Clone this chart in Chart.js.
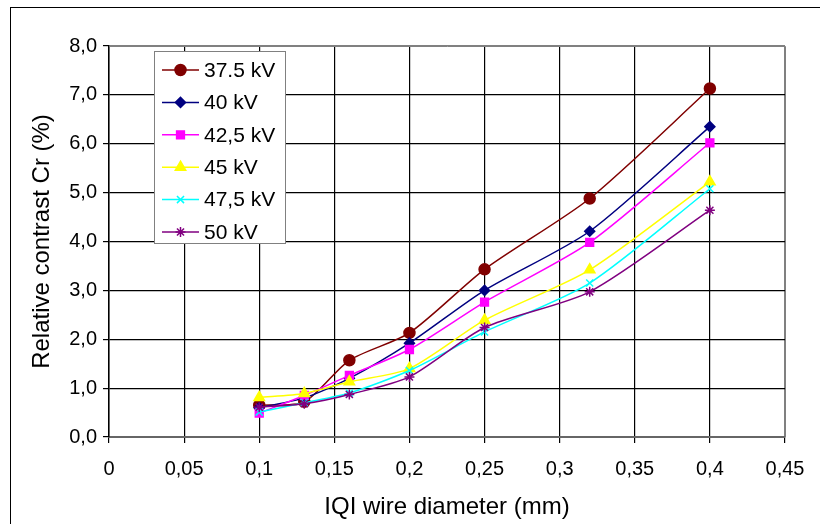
<!DOCTYPE html>
<html>
<head>
<meta charset="utf-8">
<script src="https://cdn.jsdelivr.net/npm/chart.js@4"></script>
<style>
  body { margin: 0; background: #fff; }
  canvas { display: block; }
</style>
</head>
<body>
<canvas id="contrastChart" width="820" height="524"></canvas>
<script>
// wire diameters (mm)
const diameters = [0.1, 0.13, 0.16, 0.2, 0.25, 0.32, 0.4];

const seriesNames = ['37.5 kV', '40 kV', '42,5 kV', '45 kV', '47,5 kV', '50 kV'];
const kv375 = [0.65, 0.72, 1.57, 2.13, 3.43, 4.88, 7.13];
const kv40  = [0.60, 0.80, 1.20, 1.92, 3.00, 4.21, 6.35];
const kv425 = [0.49, 0.85, 1.26, 1.79, 2.76, 3.98, 6.02];
const kv45  = [0.81, 0.89, 1.13, 1.40, 2.39, 3.42, 5.22];
const kv475 = [0.51, 0.70, 0.90, 1.36, 2.15, 3.15, 5.08];
const kv50  = [0.61, 0.68, 0.87, 1.23, 2.24, 2.97, 4.64];

const xTickLabels = ['0', '0,05', '0,1', '0,15', '0,2', '0,25', '0,3', '0,35', '0,4', '0,45'];
const yTickLabels = ['0,0', '1,0', '2,0', '3,0', '4,0', '5,0', '6,0', '7,0', '8,0'];

const colors = ['#800000', '#000080', '#FF00FF', '#FFFF00', '#00FFFF', '#800080'];
const markers = ['circle', 'rectRot', 'rect', 'triangle', 'crossRot', 'star'];
const markerSize = [5.5, 5, 5.5, 6, 5, 5];

function toPoints(vals) {
    return vals.map((v, i) => ({ x: diameters[i], y: v }));
}

const allSeries = [kv375, kv40, kv425, kv45, kv475, kv50];
const datasets = allSeries.map((vals, i) => ({
    label: seriesNames[i],
    data: toPoints(vals),
    borderColor: colors[i],
    backgroundColor: colors[i],
    borderWidth: 1.5,
    pointStyle: markers[i],
    pointRadius: markerSize[i],
    pointBorderWidth: 1.5,
    pointBorderColor: colors[i],
    pointBackgroundColor: colors[i],
    tension: 0.25,
    order: allSeries.length - i
}));

const font = "'Liberation Sans', Arial, sans-serif";

// outer frame + plot frame + legend inside plot
const framePlugin = {
    id: 'frame',
    beforeDraw(chart) {
        const ctx = chart.ctx;
        ctx.save();
        ctx.fillStyle = '#fff';
        ctx.fillRect(0, 0, chart.width, chart.height);
        ctx.strokeStyle = '#000';
        ctx.lineWidth = 1;
        ctx.strokeRect(10.5, 7.5, 900, 700);
        ctx.restore();
    },
    afterDraw(chart) {
        const ctx = chart.ctx;
        const a = chart.chartArea;
        ctx.save();
        ctx.strokeStyle = '#808080';
        ctx.lineWidth = 1;
        ctx.beginPath();
        ctx.moveTo(Math.round(a.left) + 0.5, Math.round(a.top) + 0.5);
        ctx.lineTo(Math.round(a.right) + 0.5, Math.round(a.top) + 0.5);
        ctx.lineTo(Math.round(a.right) + 0.5, Math.round(a.bottom) + 0.5);
        ctx.stroke();

        // legend box
        const bx = 154.5, by = 51.5, bw = 131, bh = 192;
        ctx.fillStyle = '#fff';
        ctx.fillRect(bx, by, bw, bh);
        ctx.strokeStyle = '#808080';
        ctx.strokeRect(bx, by, bw, bh);
        ctx.font = '21px ' + font;
        ctx.textBaseline = 'middle';
        ctx.textAlign = 'left';
        chart.data.datasets.forEach((ds, i) => {
            const y = 70 + i * 32.4;
            ctx.strokeStyle = ds.borderColor;
            ctx.lineWidth = 1.5;
            ctx.beginPath();
            ctx.moveTo(162, y);
            ctx.lineTo(199, y);
            ctx.stroke();
            ctx.fillStyle = ds.pointBackgroundColor;
            Chart.helpers.drawPoint(ctx, {
                pointStyle: ds.pointStyle,
                radius: ds.pointRadius,
                rotation: 0,
                borderWidth: 1.5
            }, 180.5, y);
            ctx.fillStyle = '#000';
            ctx.fillText(ds.label, 204, y + 1);
        });
        ctx.restore();
    }
};

const ctx = document.getElementById('contrastChart').getContext('2d');
const chart = new Chart(ctx, {
    type: 'line',
    data: { datasets: datasets },
    options: {
        responsive: false,
        animation: false,
        layout: { padding: { left: 0, top: 46, right: 35, bottom: 0 } },
        plugins: {
            legend: { display: false },
            tooltip: { enabled: false }
        },
        scales: {
            x: {
                type: 'linear',
                min: 0,
                max: 0.45,
                afterFit(scale) { scale.height = 87; },
                afterBuildTicks(scale) {
                    scale.ticks = xTickLabels.map((t, i) => ({ value: i * 0.05 }));
                },
                ticks: {
                    color: '#000',
                    font: { family: font, size: 20 },
                    padding: 14,
                    maxRotation: 0,
                    autoSkip: false,
                    callback: (v, i) => xTickLabels[i]
                },
                grid: {
                    color: (c) => (c.index === xTickLabels.length - 1 ? '#808080' : '#000'),
                    tickColor: '#000',
                    tickLength: 6,
                    lineWidth: 1.2
                },
                border: { color: '#666', width: 2 },
                title: {
                    display: true,
                    text: 'IQI wire diameter (mm)',
                    color: '#000',
                    font: { family: font, size: 24 },
                    padding: { top: 0, bottom: 2 }
                }
            },
            y: {
                min: 0,
                max: 8,
                afterFit(scale) { scale.width = 109; },
                afterBuildTicks(scale) {
                    scale.ticks = yTickLabels.map((t, i) => ({ value: i }));
                },
                ticks: {
                    color: '#000',
                    font: { family: font, size: 20 },
                    padding: 6,
                    callback: (v, i) => yTickLabels[i]
                },
                grid: {
                    color: (c) => (c.index === yTickLabels.length - 1 ? '#808080' : '#000'),
                    tickColor: '#000',
                    tickLength: 6,
                    lineWidth: 1.2
                },
                border: { color: '#000', width: 1.5 },
                title: {
                    display: true,
                    text: 'Relative contrast Cr (%)',
                    color: '#000',
                    font: { family: font, size: 24 },
                    padding: { top: 28, bottom: 0 }
                }
            }
        }
    },
    plugins: [framePlugin]
});
</script>
</body>
</html>
